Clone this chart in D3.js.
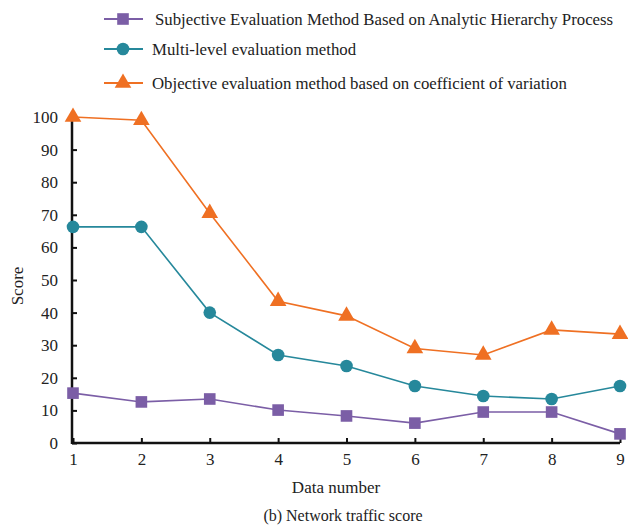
<!DOCTYPE html>
<html>
<head>
<meta charset="utf-8">
<script src="https://cdn.jsdelivr.net/npm/d3@7"></script>
<style>
  body { margin: 0; background: #fff; }
</style>
</head>
<body>
<svg id="chart"></svg>
<script>
// data
const dataNumbers = [1, 2, 3, 4, 5, 6, 7, 8, 9];
const subjectiveAHP = [15.3, 12.6, 13.5, 10.1, 8.3, 6.1, 9.5, 9.5, 2.8];
const multiLevel = [66.3, 66.3, 40, 27, 23.6, 17.5, 14.4, 13.5, 17.5];
const objectiveCV = [100, 99, 70.5, 43.5, 39, 29, 27, 34.7, 33.4];
const yTicks = [0, 10, 20, 30, 40, 50, 60, 70, 80, 90, 100];
const seriesNames = [
  "Subjective Evaluation Method Based on Analytic Hierarchy Process",
  "Multi-level evaluation method",
  "Objective evaluation method based on coefficient of variation"
];

const width = 628, height = 525;
const margin = { left: 72, right: 8, top: 117, bottom: 82 };
const serif = "'Liberation Serif', 'Times New Roman', serif";

const svg = d3.select("#chart").attr("width", width).attr("height", height);

const x = d3.scaleLinear().domain([1, 9]).range([margin.left + 1, width - margin.right]);
const y = d3.scaleLinear().domain([0, 100]).range([height - margin.bottom, margin.top]);

const series = [
  { name: seriesNames[0], values: subjectiveAHP, color: "#7b5ea6", shape: "square" },
  { name: seriesNames[1], values: multiLevel, color: "#26889b", shape: "circle" },
  { name: seriesNames[2], values: objectiveCV, color: "#ef7023", shape: "triangle" }
];

const symbolFor = (shape) => {
  if (shape === "square") return d3.symbol().type(d3.symbolSquare).size(135);
  if (shape === "circle") return d3.symbol().type(d3.symbolCircle).size(125);
  return d3.symbol().type(d3.symbolTriangle).size(120);
};

// axes
const xAxis = svg.append("g")
  .attr("transform", `translate(0,${y(0)})`)
  .call(d3.axisBottom(x).tickValues(dataNumbers).tickSize(-5).tickPadding(10).tickFormat(d3.format("d")));
const yAxis = svg.append("g")
  .attr("transform", `translate(${margin.left},0)`)
  .call(d3.axisLeft(y).tickValues(yTicks).tickSize(-5).tickPadding(14));

[xAxis, yAxis].forEach(a => {
  a.select(".domain").attr("stroke", "#111").attr("stroke-width", 2.5);
  a.selectAll(".tick line").attr("stroke", "#111").attr("stroke-width", 2);
  a.selectAll(".tick text").style("font-size", "17px").style("font-family", serif).attr("fill", "#222");
});
// x axis domain from origin to last tick, y from 0 to 100
xAxis.select(".domain").attr("d", `M${margin.left},0H${x(9)}`);
yAxis.select(".domain").attr("d", `M0,${y(100)}V${y(0) + 1}`);

// axis titles
svg.append("text")
  .attr("x", 336).attr("y", 493)
  .attr("text-anchor", "middle")
  .style("font-family", serif).style("font-size", "17px").attr("fill", "#222")
  .text("Data number");
svg.append("text")
  .attr("transform", `translate(23,${y(50) + 6}) rotate(-90)`)
  .attr("text-anchor", "middle")
  .style("font-family", serif).style("font-size", "17px").attr("fill", "#222")
  .text("Score");
svg.append("text")
  .attr("x", 343).attr("y", 521)
  .attr("text-anchor", "middle")
  .style("font-family", serif).style("font-size", "16px").attr("fill", "#222")
  .text("(b) Network traffic score");

// lines + markers
const line = d3.line().x((d, i) => x(dataNumbers[i])).y(d => y(d));

series.forEach(s => {
  svg.append("path")
    .datum(s.values)
    .attr("fill", "none")
    .attr("stroke", s.color)
    .attr("stroke-width", 1.6)
    .attr("d", line);
  svg.append("g").selectAll("path")
    .data(s.values)
    .join("path")
    .attr("transform", (d, i) => `translate(${x(dataNumbers[i])},${y(d)})`)
    .attr("d", symbolFor(s.shape)())
    .attr("fill", s.color);
});

// legend
const legendRows = [19, 49, 83];
const legend = svg.append("g");
series.forEach((s, i) => {
  const row = legend.append("g").attr("transform", `translate(0,${legendRows[i]})`);
  row.append("line")
    .attr("x1", 104).attr("x2", 143)
    .attr("stroke", s.color).attr("stroke-width", 2);
  row.append("path")
    .attr("transform", "translate(123,0)")
    .attr("d", symbolFor(s.shape)())
    .attr("fill", s.color);
  row.append("text")
    .attr("x", i === 0 ? 155 : 152).attr("y", 5.5)
    .style("font-family", serif).style("font-size", "16.8px").attr("fill", "#222")
    .text(s.name);
});
</script>
</body>
</html>
